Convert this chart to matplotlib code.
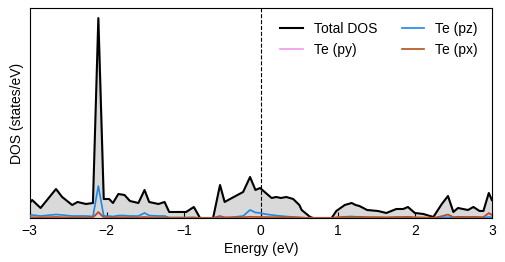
import matplotlib
matplotlib.use("Agg")
import matplotlib.pyplot as plt

plt.rcParams['font.family'] = ['Liberation Sans', 'DejaVu Sans']

energy = [-3.00, -2.97, -2.86, -2.66, -2.58, -2.45, -2.38, -2.27, -2.18, -2.11,
          -2.04, -1.97, -1.92, -1.85, -1.77, -1.70, -1.59, -1.51, -1.45, -1.33,
          -1.25, -1.19, -0.97, -0.87, -0.79, -0.62, -0.53, -0.47, -0.40, -0.23,
          -0.14, -0.07, -0.01, 0.05, 0.14, 0.20, 0.26, 0.33, 0.42, 0.50,
          0.53, 0.64, 0.68, 0.92, 0.98, 1.09, 1.18, 1.23, 1.28, 1.38,
          1.52, 1.63, 1.76, 1.85, 1.91, 2.00, 2.11, 2.24, 2.35, 2.43,
          2.50, 2.56, 2.69, 2.76, 2.84, 2.89, 2.96, 3.00]

total_dos = [1.5, 1.8, 1.0, 2.9, 2.1, 1.3, 1.6, 1.4, 1.5, 20.0,
             1.9, 1.9, 1.5, 2.4, 2.3, 1.7, 1.5, 2.8, 1.6, 1.4,
             1.6, 0.6, 0.6, 1.1, 0.0, 0.0, 3.3, 1.6, 1.9, 2.6,
             4.1, 2.8, 3.0, 2.6, 2.0, 2.1, 2.0, 2.1, 1.9, 1.3,
             0.8, 0.1, 0.0, 0.0, 0.7, 1.3, 1.5, 1.3, 1.2, 0.8,
             0.7, 0.5, 0.9, 0.9, 1.1, 0.5, 0.4, 0.1, 1.4, 2.2,
             0.6, 1.0, 0.8, 1.1, 0.7, 0.7, 2.5, 1.8]

te_pz = [0.25, 0.3, 0.2, 0.35, 0.3, 0.2, 0.2, 0.2, 0.15, 3.2,
         0.2, 0.2, 0.15, 0.25, 0.25, 0.2, 0.2, 0.5, 0.25, 0.2,
         0.2, 0.05, 0.05, 0.05, 0.0, 0.0, 0.1, 0.05, 0.05, 0.2,
         0.8, 0.55, 0.5, 0.4, 0.3, 0.25, 0.2, 0.15, 0.1, 0.05,
         0.03, 0.0, 0.0, 0.0, 0.02, 0.05, 0.05, 0.05, 0.05, 0.04,
         0.04, 0.03, 0.04, 0.04, 0.05, 0.03, 0.02, 0.0, 0.05, 0.08,
         0.03, 0.05, 0.04, 0.05, 0.03, 0.03, 0.1, 0.08]

te_py = [0.05, 0.06, 0.04, 0.08, 0.06, 0.04, 0.05, 0.04, 0.04, 0.5,
         0.05, 0.05, 0.04, 0.06, 0.06, 0.05, 0.04, 0.08, 0.05, 0.04,
         0.04, 0.02, 0.02, 0.03, 0.0, 0.0, 0.15, 0.04, 0.05, 0.06,
         0.1, 0.08, 0.08, 0.07, 0.06, 0.06, 0.06, 0.06, 0.05, 0.04,
         0.03, 0.0, 0.0, 0.0, 0.05, 0.1, 0.12, 0.1, 0.1, 0.07,
         0.06, 0.05, 0.08, 0.08, 0.1, 0.05, 0.04, 0.01, 0.15, 0.3,
         0.06, 0.1, 0.08, 0.1, 0.07, 0.07, 0.4, 0.25]

te_px = [0.06, 0.07, 0.05, 0.1, 0.07, 0.05, 0.06, 0.05, 0.05, 0.6,
         0.06, 0.06, 0.05, 0.07, 0.07, 0.06, 0.05, 0.1, 0.06, 0.05,
         0.05, 0.02, 0.02, 0.04, 0.0, 0.0, 0.2, 0.05, 0.06, 0.07,
         0.12, 0.1, 0.1, 0.09, 0.08, 0.08, 0.08, 0.08, 0.07, 0.05,
         0.04, 0.0, 0.0, 0.0, 0.06, 0.12, 0.15, 0.12, 0.12, 0.09,
         0.08, 0.06, 0.1, 0.1, 0.12, 0.06, 0.05, 0.01, 0.18, 0.35,
         0.08, 0.12, 0.1, 0.12, 0.09, 0.09, 0.5, 0.3]

xticks = [-3, -2, -1, 0, 1, 2, 3]

fig = plt.figure(figsize=(5.05, 2.62), dpi=100)
ax = fig.add_axes([0.059, 0.168, 0.915, 0.801])

ax.fill_between(energy, total_dos, 0, color='#d9d9d9', zorder=1)
ax.plot(energy, total_dos, color='black', lw=1.5, label='Total DOS', zorder=3)
ax.plot(energy, te_py, color='#ee99ee', lw=1.2, label='Te (py)', zorder=4)
ax.plot(energy, te_pz, color='#1e88e5', lw=1.2, label='Te (pz)', zorder=4)
ax.plot(energy, te_px, color='#b5501a', lw=1.2, label='Te (px)', zorder=5)
ax.axvline(0, color='black', lw=0.8, ls='--', zorder=2)

ax.set_xlim(-3, 3)
ax.set_ylim(0, 21)
ax.set_xticks(xticks)
ax.set_xticklabels(['\u22123', '\u22122', '\u22121', '0', '1', '2', '3'])
ax.set_yticks([])
ax.tick_params(axis='x', direction='in', labelsize=10, length=4, pad=4)
ax.set_xlabel('Energy (eV)', fontsize=10, labelpad=3)
ax.set_ylabel('DOS (states/eV)', fontsize=10, labelpad=4)

ax.legend(loc='upper right', ncol=2, frameon=False, fontsize=10,
          handlelength=1.6, handletextpad=0.8, columnspacing=1.8,
          borderaxespad=0.6, labelspacing=0.5)

fig.savefig('out.png', dpi=100)
